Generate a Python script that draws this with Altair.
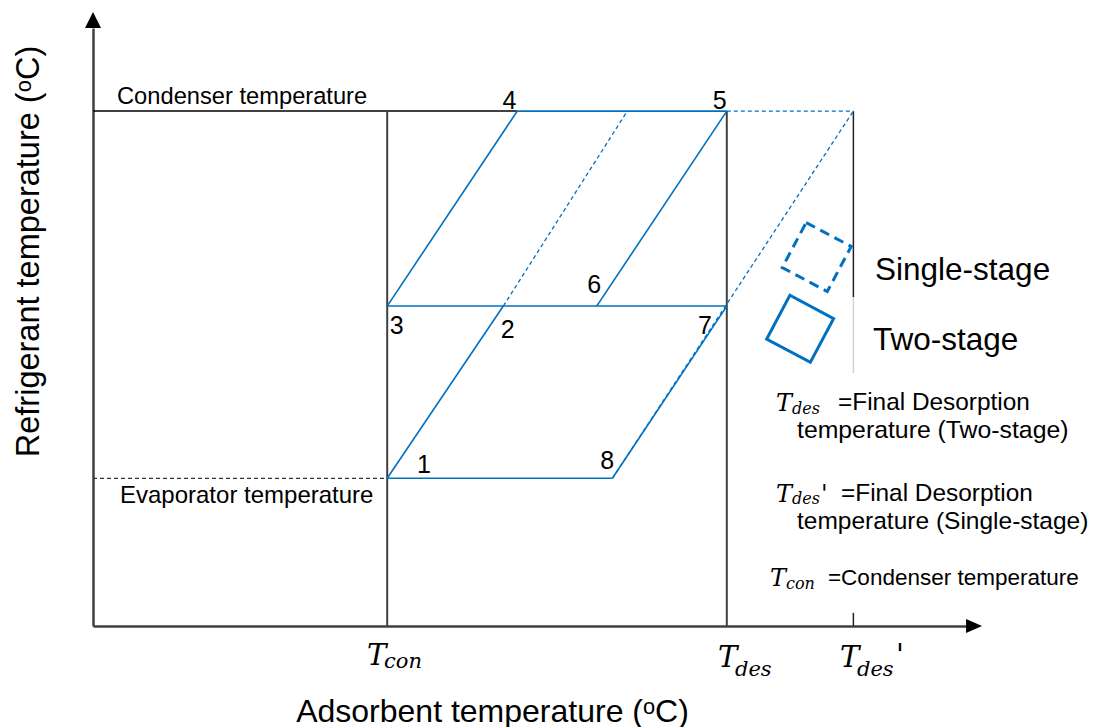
import altair as alt
import pandas as pd

# ---------------------------------------------------------------------------
# Schematic of an adsorption cycle: adsorbent temperature vs refrigerant temperature
# Both axes use an arbitrary 0-100 temperature scale.
# ---------------------------------------------------------------------------

# cycle state points
state_labels = ["1", "2", "3", "4", "5", "6", "7", "8"]
state_x = [33.7, 47.0, 33.7, 48.6, 72.6, 57.7, 72.6, 59.5]
state_y = [24.7, 53.5, 53.5, 86.1, 86.1, 53.5, 53.5, 24.7]

# where the single-stage cycle meets the condenser line
single_end_labels = ["2s", "5s"]
single_end_x = [61.2, 87.1]
single_end_y = [86.1, 86.1]

# two-stage cycle (solid) and single-stage extension (dashed)
two_stage_paths = [("1", "8"), ("1", "2"), ("3", "7"), ("3", "4"),
                   ("4", "5"), ("6", "5"), ("8", "7")]
single_stage_paths = [("2", "2s"), ("8", "5s"), ("5", "5s")]

# characteristic temperatures
t_con = 33.7
t_des = 72.6
t_des_prime = 87.1
cond_level = 86.1
evap_level = 24.7
t_des_prime_gap = [55.0, 42.3]   # T_des' guide line fades behind the legend
t_des_prime_tick = 2.2

# state number labels
num_x = [37.9, 47.5, 34.8, 47.7, 71.8, 57.4, 70.1, 58.9]
num_y = [26.9, 49.5, 50.2, 87.8, 87.8, 57.0, 50.2, 27.6]

# legend glyphs (single-stage dashed box, two-stage solid box)
legend_names = ["Single-stage", "Two-stage"]
legend_x = [82.9, 81.0]
legend_y = [61.7, 49.7]

# plain text annotations
annot_text = ["Condenser temperature", "Evaporator temperature",
              "Single-stage", "Two-stage",
              "=Final Desorption", "temperature (Two-stage)",
              "=Final Desorption", "temperature (Single-stage)",
              "=Condenser temperature"]
annot_x = [2.75, 3.09, 89.58, 89.35, 85.34, 80.64, 85.68, 80.64, 84.19]
annot_y = [88.46, 21.74, 59.36, 47.66, 37.29, 32.61, 22.07, 17.39, 8.03]
annot_fs = [23.7, 24, 31.5, 31.5, 24.4, 24.8, 24.4, 24.5, 22.5]

# math symbols: T with subscripts and primes (axis ticks and definitions),
# positioned by their baselines
sym_text = ["T", "con", "T", "des", "T", "des", "'",
            "T", "des", "T", "des", "'", "T", "con"]
sym_x = [31.39, 33.33, 71.59, 73.54, 85.57, 87.51, 91.98,
         78.24, 80.07, 78.24, 80.07, 83.39, 77.55, 79.38]
sym_y = [-6.52, -7.02, -6.86, -8.36, -6.86, -8.36, -6.52,
         35.95, 35.45, 20.74, 20.40, 20.74, 6.69, 6.19]
sym_fs = [29, 21, 29, 21, 29, 21, 29,
          24, 16, 24, 16, 24, 24, 16]

# ---------------------------------------------------------------------------
BLUE = "#0070C0"
GREY = "#404040"

pos = dict(zip(state_labels + single_end_labels,
               zip(state_x + single_end_x, state_y + single_end_y)))


def seg_frame(paths):
    return pd.DataFrame([
        {"x": pos[a][0], "y": pos[a][1], "x2": pos[b][0], "y2": pos[b][1]}
        for a, b in paths
    ])


xs = alt.Scale(domain=[0, 100], nice=False, zero=False)
ys = alt.Scale(domain=[0, 100], nice=False, zero=False)

x_axis = alt.Axis(title="Adsorbent temperature (\u1d52C)", labels=False, ticks=False,
                  grid=False, domainColor=GREY, domainWidth=2.5,
                  titleFont="Liberation Sans", titleFontSize=32,
                  titleFontWeight="normal", titleColor="black",
                  titleX=399, titleY=85, titleAlign="center",
                  titleBaseline="middle")
y_axis = alt.Axis(title="Refrigerant temperature (\u1d52C)", labels=False, ticks=False,
                  grid=False, domainColor=GREY, domainWidth=2.5,
                  titleFont="Liberation Sans", titleFontSize=32.5,
                  titleFontWeight="normal", titleColor="black",
                  titleX=-65, titleY=223, titleAngle=270, titleAlign="center",
                  titleBaseline="middle")


def X(f):
    return alt.X(f"{f}:Q", scale=xs, axis=x_axis)


def Y(f):
    return alt.Y(f"{f}:Q", scale=ys, axis=y_axis)


def segments(df, **mark):
    return alt.Chart(df).mark_rule(**mark).encode(
        x=X("x"), y=Y("y"), x2="x2:Q", y2="y2:Q")


# guide lines
cond_line = pd.DataFrame({"x": [0], "y": [cond_level], "x2": [pos["4"][0]], "y2": [cond_level]})
evap_line = pd.DataFrame({"x": [0], "y": [evap_level], "x2": [t_con], "y2": [evap_level]})
verticals = pd.DataFrame({"x": [t_con, t_des], "y": [0, 0],
                          "x2": [t_con, t_des], "y2": [cond_level, cond_level]})
prime_dark = pd.DataFrame({"x": [t_des_prime, t_des_prime], "y": [cond_level, 0],
                           "x2": [t_des_prime, t_des_prime],
                           "y2": [t_des_prime_gap[0], t_des_prime_tick]})
prime_light = pd.DataFrame({"x": [t_des_prime], "y": [t_des_prime_gap[0]],
                            "x2": [t_des_prime], "y2": [t_des_prime_gap[1]]})

layers = [
    segments(cond_line, color="black", strokeWidth=1.5),
    segments(evap_line, color="#333333", strokeWidth=1.3, strokeDash=[4, 3]),
    segments(verticals, color=GREY, strokeWidth=2),
    segments(prime_dark, color="#222222", strokeWidth=1.5),
    segments(prime_light, color="#d4d4d4", strokeWidth=1.5),
    segments(seg_frame(single_stage_paths), color=BLUE, strokeWidth=1.3, strokeDash=[4, 3]),
    segments(seg_frame(two_stage_paths), color=BLUE, strokeWidth=1.6),
]

# axis arrowheads
arrow_x = pd.DataFrame({"x": [100.92], "y": [0]})
arrow_y = pd.DataFrame({"x": [0], "y": [101.34]})
layers.append(alt.Chart(arrow_x).mark_point(
    shape="M-1,-0.875L1,0L-1,0.875Z", filled=True, size=256, color="black",
    opacity=1, strokeWidth=0).encode(x=X("x"), y=Y("y")))
layers.append(alt.Chart(arrow_y).mark_point(
    shape="M-1,1L0,-1L1,1Z", filled=True, size=256, color="black",
    opacity=1, strokeWidth=0).encode(x=X("x"), y=Y("y")))

# legend boxes
leg = pd.DataFrame({"name": legend_names, "x": legend_x, "y": legend_y})
layers.append(alt.Chart(leg[leg.name == "Single-stage"]).mark_point(
    shape="square", size=2600, angle=28, filled=False, color=BLUE,
    strokeWidth=3, strokeDash=[10, 6], opacity=1).encode(x=X("x"), y=Y("y")))
layers.append(alt.Chart(leg[leg.name == "Two-stage"]).mark_point(
    shape="square", size=2450, angle=28, filled=False, color=BLUE,
    strokeWidth=3, opacity=1).encode(x=X("x"), y=Y("y")))

# state numbers
nums = pd.DataFrame({"text": state_labels, "x": num_x, "y": num_y})
layers.append(alt.Chart(nums).mark_text(
    font="Liberation Sans", fontSize=25, align="center", baseline="middle",
    color="black").encode(x=X("x"), y=Y("y"), text="text:N"))

# plain annotations
ann = pd.DataFrame({"text": annot_text, "x": annot_x, "y": annot_y, "fs": annot_fs})
layers.append(alt.Chart(ann).mark_text(
    font="Liberation Sans", align="left", baseline="middle", color="black").encode(
    x=X("x"), y=Y("y"), text="text:N", size=alt.Size("fs:Q", scale=None, legend=None)))

# math symbols
sym = pd.DataFrame({"text": sym_text, "x": sym_x, "y": sym_y, "fs": sym_fs})
layers.append(alt.Chart(sym).mark_text(
    font="DejaVu Serif", fontStyle="italic", align="left", baseline="alphabetic",
    color="black").encode(
    x=X("x"), y=Y("y"), text="text:N", size=alt.Size("fs:Q", scale=None, legend=None)))

chart = alt.layer(*layers).properties(
    width=873, height=598,
    padding={"left": 93, "top": 28, "right": 128, "bottom": 101},
    autosize=alt.AutoSizeParams(type="none"),
    background="white",
).configure_view(stroke=None)

chart.save("out.html", embed_options={"renderer": "svg", "actions": False})
